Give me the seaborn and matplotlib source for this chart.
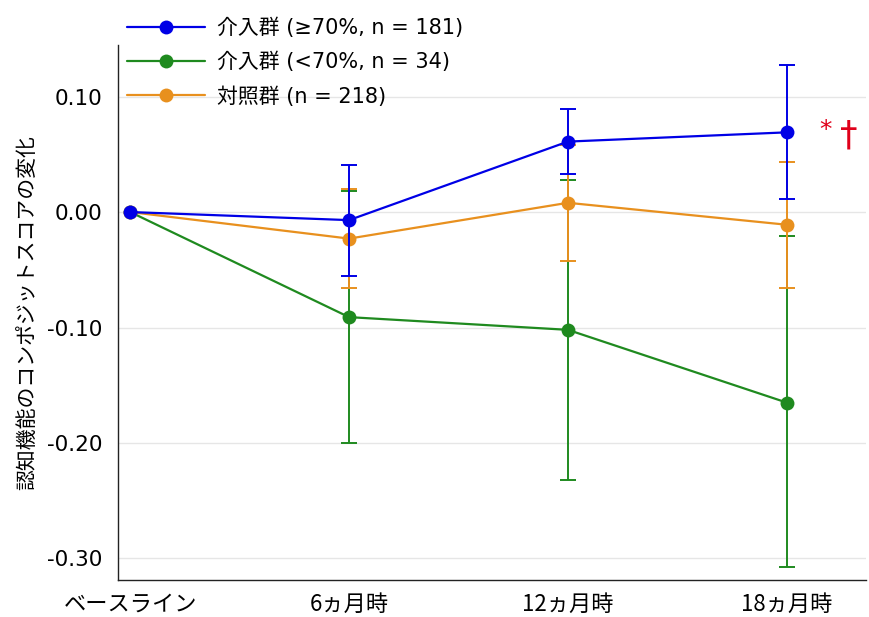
import numpy as np
import pandas as pd
import matplotlib
matplotlib.use("Agg")
import matplotlib.pyplot as plt
from matplotlib.lines import Line2D
import seaborn as sns

# time points
timepoints = ["ベースライン", "6ヵ月時", "12ヵ月時", "18ヵ月時"]

# group labels
groups = ["介入群 (≥70%, n = 181)", "介入群 (<70%, n = 34)", "対照群 (n = 218)"]

# mean change per group
mean_high = [0.0, -0.007, 0.061, 0.069]
mean_low = [0.0, -0.091, -0.102, -0.165]
mean_ctrl = [0.0, -0.023, 0.008, -0.011]

# 95% CI bounds
lo_high = [0.0, -0.055, 0.033, 0.011]
hi_high = [0.0, 0.041, 0.089, 0.127]
lo_low = [0.0, -0.200, -0.232, -0.307]
hi_low = [0.0, 0.018, 0.028, -0.021]
lo_ctrl = [0.0, -0.066, -0.042, -0.066]
hi_ctrl = [0.0, 0.020, 0.058, 0.043]

colors = {groups[0]: "#0000e6", groups[1]: "#1f8a1f", groups[2]: "#e8901e"}

sns.set_style("white")
plt.rcParams["font.family"] = ["DejaVu Sans", "Noto Sans CJK JP"]
plt.rcParams["axes.unicode_minus"] = False
plt.rcParams["text.color"] = "black"
plt.rcParams["axes.labelcolor"] = "black"
cjk = ["Noto Sans CJK JP", "DejaVu Sans"]

means = [mean_high, mean_low, mean_ctrl]
los = [lo_high, lo_low, lo_ctrl]
his = [hi_high, hi_low, hi_ctrl]

rows = []
for g, m, lo, hi in zip(groups, means, los, his):
    for i, t in enumerate(timepoints):
        rows.append({"group": g, "t": i, "mean": m[i], "lo": lo[i], "hi": hi[i]})
df = pd.DataFrame(rows)

fig = plt.figure(figsize=(8.69, 6.17), dpi=100)
ax = fig.add_axes([0.136, 0.06, 0.86, 0.867])

# draw order: green bottom, orange, blue top
zorders = {groups[0]: 6, groups[1]: 2, groups[2]: 4}
for g in [groups[1], groups[2], groups[0]]:
    sub = df[df["group"] == g]
    c = colors[g]
    err = np.vstack([sub["mean"] - sub["lo"], sub["hi"] - sub["mean"]])
    ebar = sub["t"] > 0
    ax.errorbar(sub["t"][ebar], sub["mean"][ebar], yerr=err[:, ebar.values],
                fmt="none", ecolor=c, elinewidth=1.4, capsize=6, capthick=1.4,
                zorder=zorders[g])

sns.lineplot(data=df, x="t", y="mean", hue="group", hue_order=groups,
             palette=colors, marker="o", markersize=10, markeredgewidth=0,
             linewidth=1.6, ax=ax, legend=False)
for line, g in zip(ax.lines[-3:], groups):
    line.set_zorder(zorders[g] + 1)

# legend
handles = [Line2D([0], [0], color=colors[g], marker="o", markersize=10,
                  markeredgewidth=0, linewidth=1.6) for g in groups]
fig.legend(handles, groups, loc="upper left", bbox_to_anchor=(0.1415, 0.978),
           frameon=False, fontsize=15, handlelength=3.75, handletextpad=0.58,
           labelspacing=0.66, borderpad=0.2, borderaxespad=0)

ax.text(3.15, 0.071, "*", color="#e0001a", fontsize=18, ha="left", va="center")
ax.text(3.245, 0.066, "†", color="#e0001a", fontsize=25, ha="left", va="center")

ax.set_xlim(-0.055, 3.36)
ax.set_ylim(-0.3186, 0.1446)
ax.set_xticks(range(len(timepoints)))
ax.set_xticklabels(timepoints, family=cjk, fontsize=16)
yt = [0.10, 0.00, -0.10, -0.20, -0.30]
ax.set_yticks(yt)
ax.set_yticklabels([f"{v:.2f}" for v in yt], fontsize=15.5)
ax.tick_params(axis="both", length=8, width=1, direction="out",
               colors="#222222", labelcolor="black")
ax.tick_params(axis="x", pad=1)
ax.grid(axis="y", color="#e6e6e6", linewidth=1)
ax.set_xlabel("")
ax.set_ylabel("認知機能のコンポジットスコアの変化", family=cjk, fontsize=15, labelpad=6)
for s in ["top", "right"]:
    ax.spines[s].set_visible(False)
for s in ["left", "bottom"]:
    ax.spines[s].set_color("#222222")
    ax.spines[s].set_linewidth(1)

fig.savefig("out.png", dpi=100)
